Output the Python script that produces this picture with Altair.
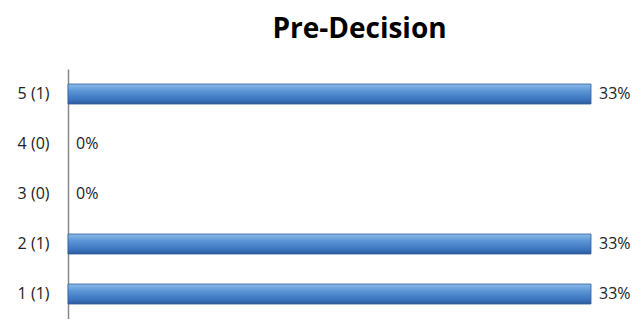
import altair as alt
import pandas as pd

categories = ["5 (1)", "4 (0)", "3 (0)", "2 (1)", "1 (1)"]
percents = [33, 0, 0, 33, 33]
labels = ["33%", "0%", "0%", "33%", "33%"]

df = pd.DataFrame({"cat": categories, "pct": percents, "label": labels})

grad = alt.LinearGradient(
    gradient="linear", x1=0, y1=0, x2=0, y2=1,
    stops=[
        alt.GradientStop(color="#8dbbea", offset=0),
        alt.GradientStop(color="#5b95d6", offset=0.35),
        alt.GradientStop(color="#3a72bd", offset=0.8),
        alt.GradientStop(color="#2c5a99", offset=1),
    ],
)

y = alt.Y("cat:N", sort=categories, title=None,
          scale=alt.Scale(paddingInner=0.6, paddingOuter=0.3),
          axis=alt.Axis(domainColor="#888888", domainWidth=1.5, ticks=False,
                        labelFontSize=16, labelFont="Open Sans", labelColor="#222222",
                        labelPadding=19))
x = alt.X("pct:Q", scale=alt.Scale(domain=[0, 33]), axis=None)

bars = alt.Chart(df).transform_filter(alt.datum.pct > 0).mark_bar(
    color=grad, stroke="#2d5d9c", strokeWidth=0.8).encode(x=x, y=y)
text = alt.Chart(df).mark_text(align="left", dx=8, fontSize=16, font="Open Sans",
                               color="#222222").encode(x=x, y=y, text="label:N")

chart = (bars + text).properties(
    width=523, height=250,
    title=alt.TitleParams("Pre-Decision", fontSize=28, font="Open Sans", fontWeight="bold",
                          color="#000000", anchor="middle", dx=30, offset=25),
    autosize=alt.AutoSizeParams(type="none"),
    padding={"left": 60, "top": 61, "right": 42, "bottom": 0},
).configure_view(stroke=None)

chart.save("out.html", embed_options={"renderer": "svg", "actions": False})
